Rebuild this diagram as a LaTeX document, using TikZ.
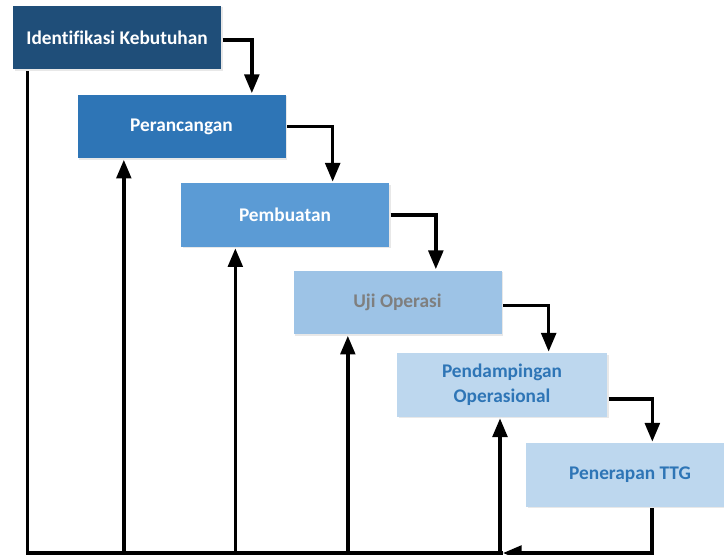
\documentclass[tikz,border=0pt]{standalone}
\usepackage{fontspec}
\setmainfont[Ligatures=NoCommon]{Carlito}
\usetikzlibrary{arrows.meta, calc, shadows}
\definecolor{wDark}{HTML}{1F4E79}
\definecolor{wMid}{HTML}{2E75B6}
\definecolor{wSoft}{HTML}{5B9BD5}
\definecolor{wLight}{HTML}{9DC3E6}
\definecolor{wPale}{HTML}{BDD7EE}
\definecolor{wGrey}{HTML}{7F7F7F}

\begin{document}
\begin{tikzpicture}[x=0.75pt, y=-0.75pt, >={Triangle[length=14pt,width=11pt]},
      line width=2.5pt, font=\bfseries\fontsize{14.5}{19}\selectfont,
      every node/.style={minimum width=156pt, minimum height=47.5pt, inner sep=2pt, align=center,
        drop shadow={shadow xshift=1.2pt, shadow yshift=-1.2pt, opacity=0.18}}]
      \useasboundingbox (0,0) rectangle (724,555);
      \node[fill=wDark, text=white] (ident) at (117,37.5) {Identifikasi Kebutuhan};
      \node[fill=wMid, text=white] (ranc) at (181.5,126.5) {Perancangan};
      \node[fill=wSoft, text=white] (buat) at (285,215) {Pembuatan};
      \node[fill=wLight, text=wGrey] (uji) at (397.5,302.5) {Uji Operasi};
      \node[fill=wPale, text=wMid, minimum width=157.5pt] (damping) at (502,385) {Pendampingan\\Operasional};
      \node[fill=wPale, text=wMid] (terap) at (630,475) {Penerapan TTG};
      \coordinate (back) at (503,553);
      % alur ke bawah
      \draw[->] ([yshift=-2pt]ident.east) -| ([xshift=132pt]ranc.north west);
      \draw[->] (ranc.east) -| ([xshift=115pt]buat.north west);
      \draw[->] (buat.east) -| ([xshift=108pt]uji.north west);
      \draw[->] ([yshift=-2.5pt]uji.east) -| ([xshift=115pt]damping.north west);
      \draw[->] ([yshift=-10.5pt]damping.east) -| ([xshift=96pt]terap.north west);
      % umpan balik
      \draw[->] ([xshift=16.5pt]terap.south) |- (back);
      \draw ([xshift=12pt]ident.south west) |- (back);
      \draw[<-] ([xshift=36pt]ranc.south west) -- ([xshift=36pt]ranc.south west |- back);
      \draw[<-] ([xshift=42pt]buat.south west) -- ([xshift=42pt]buat.south west |- back);
      \draw[<-] ([xshift=42pt]uji.south west) -- ([xshift=42pt]uji.south west |- back);
      \draw[<-] ([xshift=78.5pt]damping.south west) -- ([xshift=78.5pt]damping.south west |- back);
    \end{tikzpicture}
\end{document}
